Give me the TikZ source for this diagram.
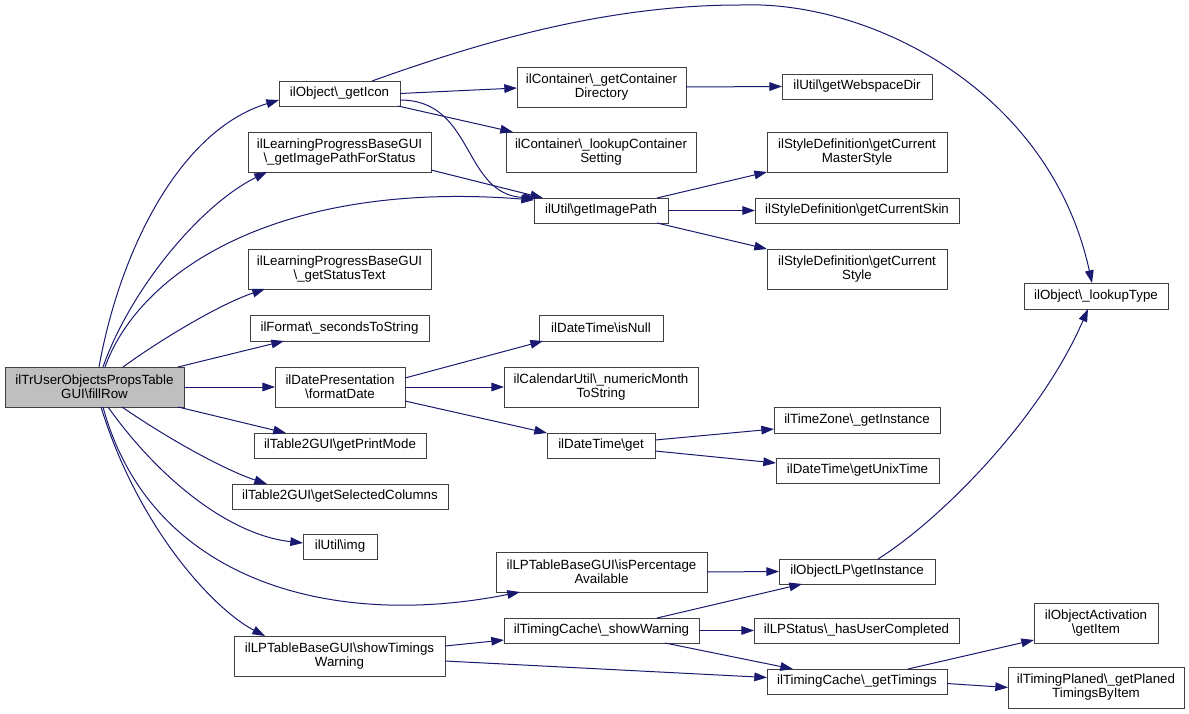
\documentclass[tikz,border=0pt]{standalone}
\usepackage{fontspec}
\setmainfont{Liberation Sans}
\usetikzlibrary{arrows.meta,calc}
\definecolor{edgecol}{HTML}{191970}
\definecolor{rootfill}{HTML}{BFBFBF}
\definecolor{boxline}{HTML}{404040}
\newcommand\bsl{\textbackslash}
\newcommand\mknode[7][]{\node[box,#1,bx={#5-#3}{#6-#4}] (#2) at ({(#3+#5)/2},{(#4+#6)/2}) {#7};}
\begin{document}
\begin{tikzpicture}[x=0.75pt,y=-0.75pt,
  box/.style={draw=boxline, line width=0.75pt, fill=white, inner sep=0pt, outer sep=0pt, align=center, font=\fontsize{10}{10.5}\selectfont},
  root/.style={fill=rootfill},
  bx/.style 2 args={minimum width={(#1)*0.75pt}, minimum height={(#2)*0.75pt}},
  edge/.style={draw=edgecol, line width=0.75pt, -{Triangle[length=9.5pt,width=6.5pt]}}]
\useasboundingbox (0,0) rectangle (1189,714);
% nodes
\mknode[root]{fill}{5}{367}{184}{407}{ilTrUserObjectsPropsTable\\GUI\bsl fillRow}
\mknode{icon}{279}{81}{400}{106}{ilObject\bsl\_getIcon}
\mknode{lpst}{248}{132}{431}{172}{ilLearningProgressBaseGUI\\\bsl\_getImagePathForStatus}
\mknode{stxt}{248}{249}{431}{289}{ilLearningProgressBaseGUI\\\bsl\_getStatusText}
\mknode{sec}{250}{315}{429}{341}{ilFormat\bsl\_secondsToString}
\mknode{fmt}{275}{367}{405}{407}{ilDatePresentation\\\bsl formatDate}
\mknode{prt}{254}{433}{426}{458}{ilTable2GUI\bsl getPrintMode}
\mknode{sel}{232}{484}{448}{509}{ilTable2GUI\bsl getSelectedColumns}
\mknode{img}{303}{534}{377}{559}{ilUtil\bsl img}
\mknode{stw}{234}{636}{445}{676}{ilLPTableBaseGUI\bsl showTimings\\Warning}
\mknode{cdir}{517}{67}{686}{107}{ilContainer\bsl\_getContainer\\Directory}
\mknode{web}{782}{74}{932}{99}{ilUtil\bsl getWebspaceDir}
\mknode{lcs}{506}{132}{696}{172}{ilContainer\bsl\_lookupContainer\\Setting}
\mknode{msty}{767}{132}{947}{172}{ilStyleDefinition\bsl getCurrent\\MasterStyle}
\mknode{gip}{534}{198}{668}{223}{ilUtil\bsl getImagePath}
\mknode{skin}{755}{198}{959}{223}{ilStyleDefinition\bsl getCurrentSkin}
\mknode{csty}{767}{249}{947}{289}{ilStyleDefinition\bsl getCurrent\\Style}
\mknode{isn}{539}{315}{663}{341}{ilDateTime\bsl isNull}
\mknode{num}{504}{367}{698}{407}{ilCalendarUtil\bsl\_numericMonth\\ToString}
\mknode{dget}{547}{433}{655}{458}{ilDateTime\bsl get}
\mknode{tz}{774}{407}{940}{433}{ilTimeZone\bsl\_getInstance}
\mknode{unix}{776}{458}{939}{483}{ilDateTime\bsl getUnixTime}
\mknode{pct}{496}{552}{707}{592}{ilLPTableBaseGUI\bsl isPercentage\\Available}
\mknode{olp}{779}{559}{935}{584}{ilObjectLP\bsl getInstance}
\mknode{shw}{504}{618}{699}{643}{ilTimingCache\bsl\_showWarning}
\mknode{huc}{754}{618}{959}{643}{ilLPStatus\bsl\_hasUserCompleted}
\mknode{gtm}{767}{669}{947}{694}{ilTimingCache\bsl\_getTimings}
\mknode{lty}{1024}{283}{1168}{309}{ilObject\bsl\_lookupType}
\mknode{oact}{1034}{603}{1158}{643}{ilObjectActivation\\\bsl getItem}
\mknode{tpl}{1008}{667}{1184}{708}{ilTimingPlaned\bsl\_getPlaned\\TimingsByItem}
% edges from fillRow
\draw[edge] ($(fill.north west)+(94,0)$) .. controls +(21,-117) and +(-99,30) .. ($(icon.south west)+(0,-6)$);
\draw[edge] ($(fill.north west)+(98,0)$) .. controls +(27,-77) and +(-67,33) .. ($(lpst.south west)+(19,0)$);
\draw[edge] ($(fill.north west)+(100,0)$) .. controls +(35,-97) and +(-254,-20) .. ($(gip.north west)+(0,2)$);
\draw[edge] ($(fill.north west)+(118,0)$) .. controls +(37,-27) and +(-45,15) .. ($(stxt.south west)+(17,0)$);
\draw[edge] ($(fill.north east)+(-6,0)$) -- ($(sec.south west)+(34,0)$);
\draw[edge] (fill.east) -- (fmt.west);
\draw[edge] ($(fill.south east)+(-6,0)$) -- ($(prt.north west)+(32,0)$);
\draw[edge] ($(fill.south west)+(117,0)$) .. controls +(48,33) and +(-42,-14) .. ($(sel.north west)+(35,0)$);
\draw[edge] ($(fill.south west)+(103,0)$) .. controls +(52,73) and +(-73,-8) .. ($(img.north west)+(0,9)$);
\draw[edge] ($(fill.south west)+(98,0)$) .. controls +(47,173) and +(-190,38) .. ($(pct.south west)+(24,0)$);
\draw[edge] ($(fill.south west)+(96,0)$) .. controls +(38,123) and +(-50,-26) .. ($(stw.north west)+(31,0)$);
% from getIcon
\draw[edge] ($(icon.north west)+(93,0)$) .. controls +(98,-35) and +(-140,0) .. (740,5) .. controls +(130,-5) and +(-42,-193) .. ($(lty.north west)+(68,0)$);
\draw[edge] (icon.east) -- ($(cdir.west)+(0,1)$);
\draw[edge] ($(icon.south east)+(-2,0)$) -- ($(lcs.north west)+(7,0)$);
\draw[edge] ($(icon.east)+(0,6.5)$) .. controls +(75,0) and +(-74,-3) .. ($(gip.north west)+(2,0)$);
\draw[edge] ($(lpst.south east)+(0,-2)$) -- ($(gip.north west)+(9,0)$);
% others
\draw[edge] (cdir.east) -- (web.west);
\draw[edge] ($(gip.north east)+(-11,0)$) -- (msty.south west);
\draw[edge] (gip.east) -- (skin.west);
\draw[edge] ($(gip.south east)+(-11,0)$) -- (csty.north west);
\draw[edge] ($(fmt.north east)+(0,11)$) -- ($(isn.south west)+(4,0)$);
\draw[edge] (fmt.east) -- (num.west);
\draw[edge] ($(fmt.south east)+(0,-6)$) -- (dget.north west);
\draw[edge] ($(dget.north east)+(0,7)$) -- ($(tz.south west)+(0,-4)$);
\draw[edge] ($(dget.south east)+(0,-7)$) -- ($(unix.north west)+(0,5)$);
\draw[edge] (pct.east) -- (olp.west);
\draw[edge] ($(olp.north west)+(99,0)$) .. controls +(62,-39) and +(-48,111) .. ($(lty.south west)+(64,0)$);
\draw[edge] ($(stw.north east)+(0,10)$) -- ($(shw.south west)+(0,-3)$);
\draw[edge] ($(stw.south east)+(0,-15)$) -- ($(gtm.west)+(0,-4)$);
\draw[edge] ($(shw.north west)+(153,0)$) -- ($(olp.south west)+(23,0)$);
\draw[edge] (shw.east) -- (huc.west);
\draw[edge] ($(shw.south west)+(161,0)$) -- ($(gtm.north west)+(26,0)$);
\draw[edge] ($(gtm.north west)+(141,0)$) -- ($(oact.south west)+(0,-3)$);
\draw[edge] ($(gtm.east)+(0,2)$) -- (tpl.west);
\end{tikzpicture}
\end{document}
